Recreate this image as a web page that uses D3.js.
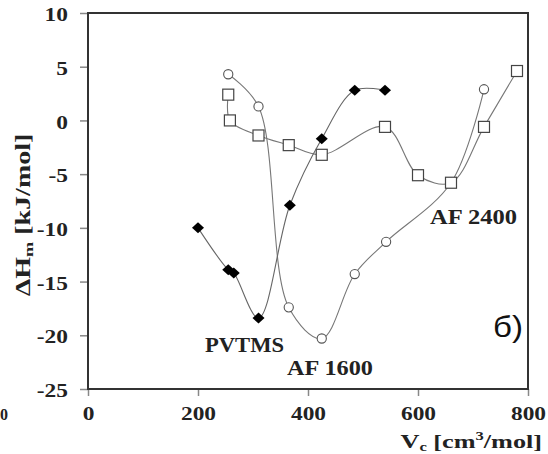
<!DOCTYPE html>
<html><head><meta charset="utf-8">
<script src="https://cdn.jsdelivr.net/npm/d3@7"></script>
<style>body{margin:0;background:#fff} svg{display:block} text{font-family:'Liberation Serif','Times New Roman',serif}</style>
</head><body><svg id="c" width="548" height="454"></svg>
<script>
// ---- data ----
const xTicks = [0, 200, 400, 600, 800];
const yTicks = [10, 5, 0, -5, -10, -15, -20, -25];
const pvtmsX = [200, 255, 265, 310, 367, 425, 485, 540];
const pvtmsY = [-10, -13.9, -14.2, -18.4, -7.9, -1.7, 2.8, 2.8];
const af1600X = [255, 310, 365, 425, 485, 542, 660, 720];
const af1600Y = [4.3, 1.3, -17.4, -20.3, -14.3, -11.3, -5.8, 2.9];
const af2400X = [255, 258, 310, 365, 425, 540, 600, 660, 720, 780];
const af2400Y = [2.4, 0, -1.4, -2.3, -3.2, -0.6, -5.1, -5.8, -0.6, 4.6];
const seriesLabels = ["PVTMS", "AF 1600", "AF 2400"];

const serif = "'Liberation Serif','Times New Roman',serif";
const svg = d3.select("#c");
const x = d3.scaleLinear().domain([0, 800]).range([88, 528]);
const y = d3.scaleLinear().domain([-25, 10]).range([389, 13]);

const zip = (xs, ys) => xs.map((v, i) => [v, ys[i]]);
const line = d3.line().x(d => x(d[0])).y(d => y(d[1])).curve(d3.curveCatmullRom.alpha(0.5));

// axes
const gy = svg.append("g").attr("transform", `translate(${x(0)},0)`)
  .call(d3.axisLeft(y).tickValues(yTicks).tickSize(8).tickFormat(d => String(d)));
const gx = svg.append("g").attr("transform", `translate(0,${y(-25)})`)
  .call(d3.axisBottom(x).tickValues(xTicks).tickSize(7).tickFormat(d => String(d)));
[gy, gx].forEach(g => {
  g.attr("font-family", serif).style("font-family", serif);
  g.select(".domain").remove();
  g.selectAll(".tick line").attr("stroke", "#888").attr("stroke-width", 1.5);
  g.selectAll(".tick text").style("font-family", serif).attr("font-weight", "bold")
    .attr("font-size", 18).attr("fill", "#222");
});
gy.selectAll(".tick text").attr("x", null).attr("dy", "0.42em")
  .attr("transform", "translate(-20,0) scale(1.3,1)");
gx.selectAll(".tick text").attr("y", null).attr("dy", 0)
  .attr("transform", "translate(0,31) scale(1.3,1)");

// frame
svg.append("rect").attr("x", x(0)).attr("y", y(10))
  .attr("width", x(800) - x(0)).attr("height", y(-25) - y(10))
  .attr("fill", "none").attr("stroke", "#333").attr("stroke-width", 2);

// AF 1600 (open circles)
const d1600 = zip(af1600X, af1600Y);
svg.append("path").attr("d", line(d1600)).attr("fill", "none").attr("stroke", "#777").attr("stroke-width", 1.1);
svg.selectAll(".c16").data(d1600).enter().append("circle")
  .attr("cx", d => x(d[0])).attr("cy", d => y(d[1])).attr("r", 4.6)
  .attr("fill", "#fff").attr("stroke", "#555").attr("stroke-width", 1.1);

// AF 2400 (open squares)
const d2400 = zip(af2400X, af2400Y);
svg.append("path").attr("d", line(d2400)).attr("fill", "none").attr("stroke", "#777").attr("stroke-width", 1.1);
svg.selectAll(".s24").data(d2400).enter().append("rect")
  .attr("x", d => x(d[0]) - 5.5).attr("y", d => y(d[1]) - 5.5).attr("width", 11).attr("height", 11)
  .attr("fill", "#fff").attr("stroke", "#444").attr("stroke-width", 1.2);

// PVTMS (filled diamonds)
const dpv = zip(pvtmsX, pvtmsY);
svg.append("path").attr("d", line(dpv)).attr("fill", "none").attr("stroke", "#666").attr("stroke-width", 1.1);
svg.selectAll(".dpv").data(dpv).enter().append("path")
  .attr("transform", d => `translate(${x(d[0])},${y(d[1])})`)
  .attr("d", "M0,-5.5L6,0L0,5.5L-6,0Z").attr("fill", "#000");

// series labels
const lab = (t, px, py, len) => svg.append("text").attr("x", px).attr("y", py)
  .style("font-family", serif).attr("font-weight", "bold").attr("font-size", 20)
  .attr("fill", "#222").attr("textLength", len).attr("lengthAdjust", "spacingAndGlyphs").text(t);
lab(seriesLabels[0], 205, 352, 79);
lab(seriesLabels[1], 287, 375, 86);
lab(seriesLabels[2], 430, 224, 87);

// panel letter
svg.append("text").attr("x", 493).attr("y", 337).style("font-family", "'Liberation Sans',Arial,sans-serif")
  .attr("font-size", 29).attr("fill", "#111").attr("textLength", 30).attr("lengthAdjust", "spacingAndGlyphs").text("б)");

// y title
const yt = svg.append("text").attr("transform", "translate(30,215) rotate(-90) scale(1.4,1)")
  .attr("text-anchor", "middle").style("font-family", serif).attr("font-weight", "bold")
  .attr("font-size", 20).attr("fill", "#222");
yt.append("tspan").text("ΔH");
yt.append("tspan").attr("font-size", 13).attr("dy", 3).text("m");
yt.append("tspan").attr("dy", -3).text(" [kJ/mol]");

// x title
const xt = svg.append("text").attr("transform", "translate(542,448) scale(1.38,1)")
  .attr("text-anchor", "end").style("font-family", serif).attr("font-weight", "bold")
  .attr("font-size", 19).attr("fill", "#222");
xt.append("tspan").text("V");
xt.append("tspan").attr("font-size", 12).attr("dy", 3).text("c");
xt.append("tspan").attr("dy", -3).text(" [cm");
xt.append("tspan").attr("font-size", 12).attr("dy", -8).text("3");
xt.append("tspan").attr("dy", 8).text("/mol]");

// edge tick label remnant from the neighbouring panel
svg.append("text").attr("transform", "translate(0,420) scale(1.0,1)").attr("text-anchor", "start")
  .style("font-family", serif).attr("font-weight", "bold").attr("font-size", 16).attr("fill", "#222").text("0");
</script></body></html>
